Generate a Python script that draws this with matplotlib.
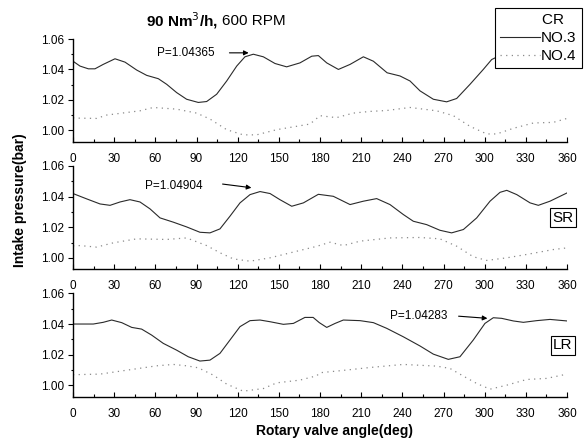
import matplotlib
matplotlib.use("Agg")
import matplotlib.pyplot as plt
from matplotlib.ticker import MultipleLocator

plt.rcParams['font.family'] = ['Liberation Sans', 'DejaVu Sans']

# ---- data (angle in deg, pressure in bar) ----
cr3_x = [0, 5.1, 11.2, 16, 22, 30.6, 37.9, 46.4, 53.7, 62.2, 68.3, 75.5, 82.8, 91.3, 97.4, 104.7,
         112, 119.3, 125.3, 131.4, 138.7, 147.2, 155.7, 165.4, 174, 178.8, 184.9, 193.4, 201.9,
         211.6, 218.9, 228.9, 238.3, 245.6, 252.9, 262.6, 272.3, 279.6, 289.3, 299, 305.1, 312,
         320, 330, 340, 350, 360]
cr3_y = [1.0454, 1.0422, 1.0404, 1.0404, 1.0433, 1.0470, 1.0448, 1.0396, 1.0361, 1.0339, 1.0302,
         1.0248, 1.0204, 1.0183, 1.0189, 1.0237, 1.0324, 1.0422, 1.0483, 1.0500, 1.0483, 1.0439,
         1.0417, 1.0443, 1.0487, 1.0491, 1.0443, 1.0400, 1.0433, 1.0483, 1.0454, 1.0378, 1.0357,
         1.0324, 1.0259, 1.0204, 1.0187, 1.0209, 1.0302, 1.0400, 1.0465, 1.0495, 1.0490, 1.0460,
         1.0430, 1.0440, 1.0460]
cr4_x = [0, 2.7, 17.2, 24.5, 48.8, 58.5, 75.5, 90.1, 99.8, 112, 124, 133.8, 148.4, 172.7, 180,
         192, 204.3, 216.4, 228.6, 245.6, 265, 277.2, 289.3, 301.5, 308.8, 320.9, 335.5, 350, 360]
cr4_y = [1.0082, 1.0080, 1.0078, 1.0100, 1.0128, 1.0150, 1.0139, 1.0113, 1.0074, 1.0004, 0.9970,
         0.9970, 1.0004, 1.0041, 1.0096, 1.0083, 1.0113, 1.0124, 1.0130, 1.0150, 1.0128, 1.0096,
         1.0026, 0.9976, 0.9976, 1.0013, 1.0048, 1.0052, 1.0078]

sr3_x = [0, 10, 19.7, 27, 34.3, 41.5, 48.8, 56.1, 63.4, 73.1, 82.8, 92.5, 99.8, 107.1, 114.4,
         121.7, 129, 136.3, 143.6, 150.8, 159.4, 167.9, 178.8, 189.7, 201.9, 211.6, 221.3, 231,
         240.7, 248, 257.7, 267.4, 275.9, 284.5, 294.2, 303.9, 311.2, 316.1, 323.4, 333.1, 339.1,
         347.6, 360]
sr3_y = [1.0420, 1.0385, 1.0352, 1.0343, 1.0365, 1.0380, 1.0365, 1.0320, 1.0261, 1.0233, 1.0202,
         1.0167, 1.0163, 1.0189, 1.0272, 1.0359, 1.0413, 1.0433, 1.0420, 1.0380, 1.0337, 1.0359,
         1.0415, 1.0402, 1.0348, 1.0370, 1.0387, 1.0348, 1.0283, 1.0239, 1.0217, 1.0180, 1.0163,
         1.0185, 1.0261, 1.0370, 1.0428, 1.0441, 1.0413, 1.0359, 1.0343, 1.0370, 1.0424]
sr4_x = [0, 5.1, 17.2, 29.4, 46.4, 68.3, 82.8, 97.4, 107.1, 116.8, 129, 143.6, 163, 177.6, 187.3,
         197, 209.2, 231, 252.9, 267.4, 279.6, 291.7, 301.5, 316.1, 330.6, 350, 360]
sr4_y = [1.0078, 1.0080, 1.0070, 1.0098, 1.0124, 1.0120, 1.0130, 1.0080, 1.0033, 0.9993, 0.9978,
         1.0000, 1.0043, 1.0075, 1.0102, 1.0080, 1.0109, 1.0130, 1.0133, 1.0124, 1.0076, 1.0007,
         0.9983, 1.0000, 1.0022, 1.0054, 1.0065]

lr3_x = [0, 14.8, 22, 28.2, 35.5, 42.8, 50, 57.3, 65.8, 75.5, 84, 92.5, 99.8, 107.1, 114.4, 121.7,
         129, 136.3, 143.6, 153.3, 160.6, 169, 175, 179.5, 184.9, 191, 197, 209.2, 218.9, 228.6,
         240.7, 252.9, 262.6, 273.5, 282, 291.7, 300.2, 306.3, 312.4, 320.9, 328.2, 337.9, 347.6,
         360]
lr3_y = [1.0400, 1.0400, 1.0411, 1.0426, 1.0409, 1.0378, 1.0367, 1.0328, 1.0274, 1.0230, 1.0187,
         1.0159, 1.0165, 1.0209, 1.0296, 1.0383, 1.0422, 1.0426, 1.0415, 1.0398, 1.0404, 1.0443,
         1.0443, 1.0409, 1.0378, 1.0404, 1.0426, 1.0422, 1.0409, 1.0372, 1.0317, 1.0257, 1.0204,
         1.0170, 1.0187, 1.0296, 1.0404, 1.0441, 1.0437, 1.0420, 1.0411, 1.0422, 1.0430, 1.0420]
lr4_x = [0, 19.7, 61, 73.1, 82.8, 91.3, 102.3, 112, 124, 138.7, 148.4, 165.4, 177.6, 180, 194.6,
         216.4, 240.7, 265, 274.7, 284.5, 294.2, 303.9, 316.1, 330.6, 345.1, 360]
lr4_y = [1.0070, 1.0074, 1.0128, 1.0137, 1.0128, 1.0115, 1.0067, 1.0009, 0.9963, 0.9980, 1.0017,
         1.0035, 1.0063, 1.0083, 1.0096, 1.0117, 1.0137, 1.0126, 1.0111, 1.0061, 1.0013, 0.9976,
         1.0002, 1.0039, 1.0046, 1.0074]

x_ticks = [0, 30, 60, 90, 120, 150, 180, 210, 240, 270, 300, 330, 360]
y_ticks = [1.00, 1.02, 1.04, 1.06]
y_tick_labels = ["1.00", "1.02", "1.04", "1.06"]

panels = [
    dict(s3=(cr3_x, cr3_y), s4=(cr4_x, cr4_y), tag=None,
         note="P=1.04365", note_xy=(61, 1.0509), arr=((114, 1.0509), (128, 1.0509))),
    dict(s3=(sr3_x, sr3_y), s4=(sr4_x, sr4_y), tag="SR",
         note="P=1.04904", note_xy=(52.5, 1.0470), arr=((109, 1.0482), (130, 1.0458))),
    dict(s3=(lr3_x, lr3_y), s4=(lr4_x, lr4_y), tag="LR",
         note="P=1.04283", note_xy=(231, 1.0450), arr=((281, 1.0451), (302, 1.0437))),
]

W, H = 588, 446
fig = plt.figure(figsize=(W / 100, H / 100), dpi=100)

axes_px = [(39, 141.7), (166, 269.3), (293.3, 397)]  # top/bottom pixel rows
left_px, right_px = 73, 567

solid_color = "#2a2a2a"
dot_color = "#8a8a8a"

handles = None
for (top, bot), p in zip(axes_px, panels):
    ax = fig.add_axes([left_px / W, 1 - bot / H, (right_px - left_px) / W, (bot - top) / H])
    l3, = ax.plot(*p["s3"], color=solid_color, lw=0.8, solid_joinstyle='round')
    l4, = ax.plot(*p["s4"], color=dot_color, lw=0.9, linestyle=(0, (1, 3.5)))
    ax.set_xlim(0, 360)
    ax.set_ylim(0.9925, 1.06)
    ax.set_xticks(x_ticks)
    ax.xaxis.set_minor_locator(MultipleLocator(15))
    ax.set_yticks(y_ticks)
    ax.set_yticklabels(y_tick_labels)
    ax.yaxis.set_minor_locator(MultipleLocator(0.01))
    ax.tick_params(axis='x', which='major', direction='in', length=3.5, width=0.8,
                   pad=8, labelsize=8.5)
    ax.tick_params(axis='x', which='minor', direction='in', length=2, width=0.8)
    ax.tick_params(axis='y', which='major', direction='out', length=3.5, width=0.8,
                   pad=3, labelsize=8.5)
    ax.tick_params(axis='y', which='minor', direction='out', length=1.8, width=0.8)
    for s in ('top', 'right'):
        ax.spines[s].set_visible(False)
    for s in ('left', 'bottom'):
        ax.spines[s].set_linewidth(1.0)
    ax.patch.set_alpha(0)

    ax.text(p["note_xy"][0], p["note_xy"][1], p["note"], fontsize=8.5,
            ha='left', va='center')
    ax.annotate("", xy=p["arr"][1], xytext=p["arr"][0],
                arrowprops=dict(arrowstyle='-|>', color='black', lw=0.8,
                                mutation_scale=7, shrinkA=0, shrinkB=0))
    if p["tag"]:
        ax.text(357, 1.0262, p["tag"], fontsize=11, ha='center', va='center',
                clip_on=False,
                bbox=dict(boxstyle='square,pad=0.15', facecolor='white',
                          edgecolor='black', lw=0.8))
    if handles is None:
        handles = [l3, l4]

leg = fig.legend(handles, ["NO.3", "NO.4"], title="CR   ", loc='upper right',
                 bbox_to_anchor=(582 / W, 1 - 8 / H), borderaxespad=0,
                 fontsize=11, title_fontsize=11, frameon=True, fancybox=False,
                 edgecolor='black', framealpha=1, handlelength=2.6,
                 handletextpad=0.1, labelspacing=0.25, borderpad=0.35,
                 alignment='right')
leg.get_frame().set_linewidth(0.8)

fig.text(146 / W, 1 - 21 / H, r"90 Nm$^3$/h,", fontsize=11, fontweight='bold',
         ha='left', va='center')
fig.text(222.5 / W, 1 - 21 / H, "600 RPM", fontsize=11, ha='left', va='center')

fig.text(20 / W, 1 - 200 / H, "Intake pressure(bar)", rotation=90, fontsize=10,
         fontweight='bold', ha='center', va='center')
fig.text(335 / W, 1 - 431 / H, "Rotary valve angle(deg)", fontsize=10,
         fontweight='bold', ha='center', va='center')

fig.savefig("out.png", dpi=100)
